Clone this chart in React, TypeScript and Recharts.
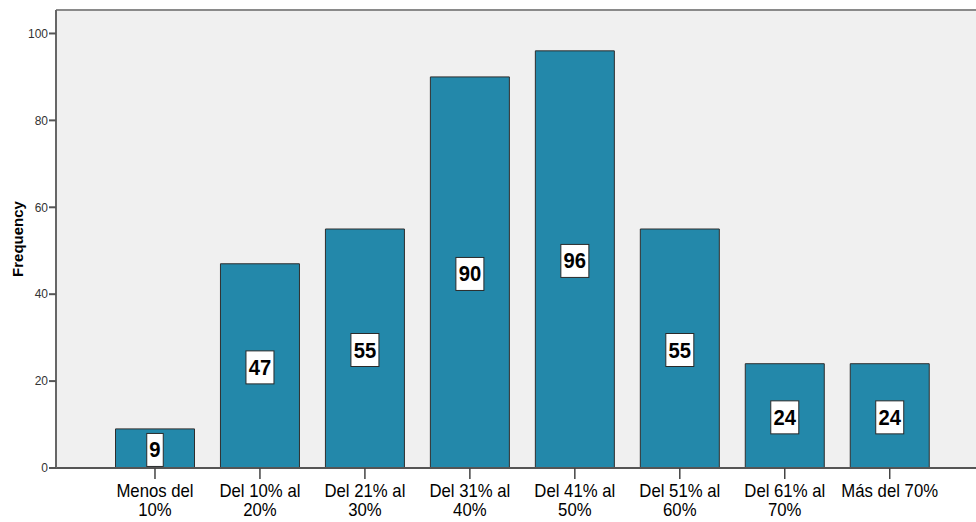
import React from 'react';
import { BarChart, Bar, XAxis, YAxis, CartesianGrid, LabelList, ReferenceLine } from 'recharts';

const categories = [
  'Menos del 10%',
  'Del 10% al 20%',
  'Del 21% al 30%',
  'Del 31% al 40%',
  'Del 41% al 50%',
  'Del 51% al 60%',
  'Del 61% al 70%',
  'Más del 70%',
];
const categoryLines: string[][] = [
  ['Menos del', '10%'],
  ['Del 10% al', '20%'],
  ['Del 21% al', '30%'],
  ['Del 31% al', '40%'],
  ['Del 41% al', '50%'],
  ['Del 51% al', '60%'],
  ['Del 61% al', '70%'],
  ['Más del 70%'],
];
const frequencies = [9, 47, 55, 90, 96, 55, 24, 24];
const yTicks = [0, 20, 40, 60, 80, 100];
const yMax = 105.4;
const yAxisTitle = 'Frequency';

const data = categories.map((c, i) => ({ category: c, frequency: frequencies[i] }));

const FONT = "'Liberation Sans', Arial, sans-serif";

const XTick = (props: any) => {
  const { x, y, payload } = props;
  const idx = categories.indexOf(payload.value);
  const lines = idx >= 0 ? categoryLines[idx] : [String(payload.value)];
  return (
    <g transform={`translate(${x}, 0) scale(0.93, 1)`}>
      {lines.map((l, i) => (
        <text key={i} x={0} y={y + 16.5 + i * 19} textAnchor="middle" fontFamily={FONT} fontSize={18} fill="#000">
          {l}
        </text>
      ))}
    </g>
  );
};

const ValueLabel = (props: any) => {
  const { x, y, width, height, value } = props;
  const s = String(value);
  const w = s.length * 11.5 + 5;
  const h = 33;
  const cx = x + width / 2;
  const cy = y + height / 2 + 1.5;
  return (
    <g>
      <rect x={cx - w / 2} y={cy - h / 2} width={w} height={h} fill="#ffffff" stroke="#2a2a2a" strokeWidth={1} />
      <g transform={`translate(${cx}, 0) scale(0.92, 1)`}>
        <text x={0} y={cy + 7.5} textAnchor="middle" fontFamily={FONT} fontWeight="bold" fontSize={22} fill="#000">
          {s}
        </text>
      </g>
    </g>
  );
};

const YTitle = (props: any) => {
  const vb = props.viewBox || { x: 0, y: 10, width: 56, height: 458 };
  const cx = vb.x + 17;
  const cy = vb.y + vb.height / 2;
  return (
    <text
      x={cx}
      y={cy}
      transform={`rotate(-90, ${cx}, ${cy})`}
      textAnchor="middle"
      dominantBaseline="central"
      fontFamily={FONT}
      fontWeight="bold"
      fontSize={15}
      fill="#000"
    >
      {yAxisTitle}
    </text>
  );
};

export default function App() {
  return (
    <div style={{ position: 'absolute', left: 0, top: 0, width: 976, height: 522, background: '#ffffff' }}>
      <BarChart
        width={976}
        height={522}
        data={data}
        margin={{ top: 10, right: 0, bottom: 0, left: 0 }}
        barSize={79}
      >
        <CartesianGrid fill="#F0F0F0" horizontal={false} vertical={false} stroke="none" />
        <ReferenceLine y={yMax} stroke="#8a8a8a" strokeWidth={2} />
        <XAxis
          dataKey="category"
          height={54}
          padding={{ left: 46.5, right: 33.8 }}
          tick={<XTick />}
          tickSize={11}
          tickMargin={2}
          interval={0}
          axisLine={{ stroke: '#555', strokeWidth: 2 }}
          tickLine={{ stroke: '#444', strokeWidth: 1.5 }}
        />
        <YAxis
          width={56}
          domain={[0, yMax]}
          ticks={yTicks}
          allowDataOverflow
          tickSize={7}
          tickMargin={1}
          axisLine={{ stroke: '#666', strokeWidth: 2 }}
          tickLine={{ stroke: '#555', strokeWidth: 2 }}
          tick={{ fontSize: 12, fill: '#333', fontFamily: FONT }}
          label={<YTitle />}
        />
        <Bar dataKey="frequency" fill="#2388AA" stroke="#2e2e2e" strokeWidth={1} isAnimationActive={false}>
          <LabelList dataKey="frequency" content={<ValueLabel />} />
        </Bar>
      </BarChart>
    </div>
  );
}
